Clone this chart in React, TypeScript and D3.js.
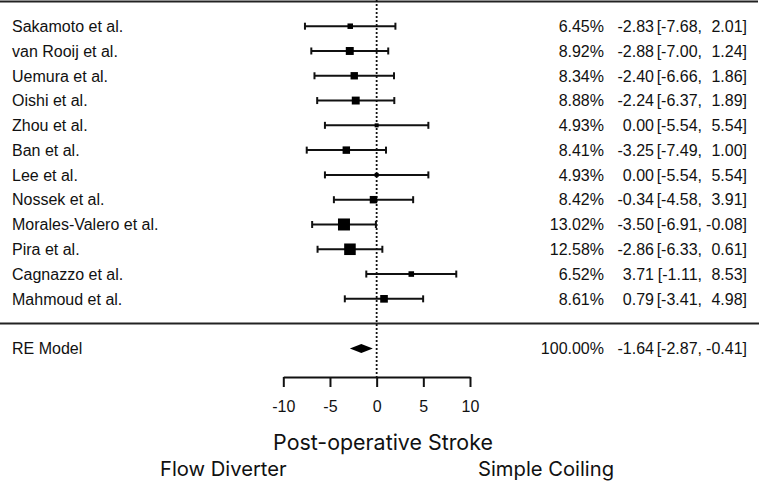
import React, { useEffect, useRef } from 'react';
import * as d3 from 'd3';

// dados do forest plot
const studies = [
  'Sakamoto et al.',
  'van Rooij et al.',
  'Uemura et al.',
  'Oishi et al.',
  'Zhou et al.',
  'Ban et al.',
  'Lee et al.',
  'Nossek et al.',
  'Morales-Valero et al.',
  'Pira et al.',
  'Cagnazzo et al.',
  'Mahmoud et al.',
];
const weights = [6.45, 8.92, 8.34, 8.88, 4.93, 8.41, 4.93, 8.42, 13.02, 12.58, 6.52, 8.61];
const estimates = [-2.83, -2.88, -2.4, -2.24, 0.0, -3.25, 0.0, -0.34, -3.5, -2.86, 3.71, 0.79];
const lowers = [-7.68, -7.0, -6.66, -6.37, -5.54, -7.49, -5.54, -4.58, -6.91, -6.33, -1.11, -3.41];
const uppers = [2.01, 1.24, 1.86, 1.89, 5.54, 1.0, 5.54, 3.91, -0.08, 0.61, 8.53, 4.98];

const summaryLabel = 'RE Model';
const summaryWeight = 100.0;
const summaryEst = -1.64;
const summaryLo = -2.87;
const summaryHi = -0.41;

const xTicks = [-10, -5, 0, 5, 10];
const axisTitle = 'Post-operative Stroke';
const leftLabel = 'Flow Diverter';
const rightLabel = 'Simple Coiling';

const W = 762;
const H = 482;
const labelFont = '"Liberation Sans", Arial, sans-serif';
const titleFont = 'Inter, "Noto Sans", sans-serif';

const App: React.FC = () => {
  const svgRef = useRef<SVGSVGElement | null>(null);

  useEffect(() => {
    const svg = d3.select(svgRef.current);
    svg.selectAll('*').remove();

    const k = studies.length;

    // escala X do efeito
    const x = d3.scaleLinear().domain([-10, 10]).range([283.3, 470]);
    // escala Y por "linha" do forest plot (k .. 1, linha 0 = separador, -1 = modelo)
    const y = d3.scaleLinear().domain([k, -1]).range([26.2, 348.4]);
    // tamanho do quadrado proporcional ao peso
    const size = d3
      .scaleLinear()
      .domain([d3.min(weights) as number, d3.max(weights) as number])
      .range([4, 12]);

    const rows = studies.map((s, i) => ({
      name: s,
      w: weights[i],
      est: estimates[i],
      lo: lowers[i],
      hi: uppers[i],
      row: k - i,
    }));

    // linha do topo e separador
    svg
      .append('line')
      .attr('x1', 0)
      .attr('x2', 758)
      .attr('y1', y(k + 1))
      .attr('y2', y(k + 1))
      .attr('stroke', '#222')
      .attr('stroke-width', 2);
    svg
      .append('line')
      .attr('x1', 0)
      .attr('x2', 759)
      .attr('y1', y(0))
      .attr('y2', y(0))
      .attr('stroke', '#222')
      .attr('stroke-width', 2);

    const axisY = 377;

    // linha pontilhada no zero
    svg
      .append('line')
      .attr('x1', x(0))
      .attr('x2', x(0))
      .attr('y1', 0)
      .attr('y2', axisY)
      .attr('stroke', '#111')
      .attr('stroke-width', 1.8)
      .attr('stroke-dasharray', '2,2');

    const g = svg.append('g');
    const rowG = g
      .selectAll('g.row')
      .data(rows)
      .enter()
      .append('g')
      .attr('transform', (d) => `translate(0,${y(d.row)})`);

    // whiskers
    rowG
      .append('line')
      .attr('x1', (d) => x(d.lo))
      .attr('x2', (d) => x(d.hi))
      .attr('stroke', '#111')
      .attr('stroke-width', 2);
    rowG
      .append('line')
      .attr('x1', (d) => x(d.lo))
      .attr('x2', (d) => x(d.lo))
      .attr('y1', -3.5)
      .attr('y2', 3.5)
      .attr('stroke', '#111')
      .attr('stroke-width', 2);
    rowG
      .append('line')
      .attr('x1', (d) => x(d.hi))
      .attr('x2', (d) => x(d.hi))
      .attr('y1', -3.5)
      .attr('y2', 3.5)
      .attr('stroke', '#111')
      .attr('stroke-width', 2);

    // quadrados
    rowG
      .append('rect')
      .attr('x', (d) => x(d.est) - size(d.w) / 2)
      .attr('y', (d) => -size(d.w) / 2)
      .attr('width', (d) => size(d.w))
      .attr('height', (d) => size(d.w))
      .attr('fill', '#000');

    // textos
    const txt = (sel: any) =>
      sel
        .attr('font-family', labelFont)
        .attr('font-size', 16)
        .attr('fill', '#111')
        .attr('dy', '0.36em');

    txt(rowG.append('text').attr('x', 12).text((d) => d.name));
    txt(rowG.append('text').attr('x', 604).attr('text-anchor', 'end').text((d) => d.w.toFixed(2) + '%'));
    txt(rowG.append('text').attr('x', 654).attr('text-anchor', 'end').text((d) => d.est.toFixed(2)));
    txt(rowG.append('text').attr('x', 702).attr('text-anchor', 'end').text((d) => `[${d.lo.toFixed(2)},`));
    txt(rowG.append('text').attr('x', 747).attr('text-anchor', 'end').text((d) => `${d.hi.toFixed(2)}]`));

    // modelo RE
    const ys = y(-1);
    const diamond = d3.line()([
      [x(summaryLo), ys],
      [x(summaryEst), ys - 4.5],
      [x(summaryHi), ys],
      [x(summaryEst), ys + 4.5],
    ]);
    svg.append('path').attr('d', diamond + 'Z').attr('fill', '#000');

    const sg = svg.append('g').attr('transform', `translate(0,${ys})`);
    txt(sg.append('text').attr('x', 12).text(summaryLabel));
    txt(sg.append('text').attr('x', 604).attr('text-anchor', 'end').text(summaryWeight.toFixed(2) + '%'));
    txt(sg.append('text').attr('x', 654).attr('text-anchor', 'end').text(summaryEst.toFixed(2)));
    txt(sg.append('text').attr('x', 702).attr('text-anchor', 'end').text(`[${summaryLo.toFixed(2)},`));
    txt(sg.append('text').attr('x', 747).attr('text-anchor', 'end').text(`${summaryHi.toFixed(2)}]`));

    // eixo X
    const axis = d3
      .axisBottom(x)
      .tickValues(xTicks)
      .tickSize(10)
      .tickSizeOuter(0)
      .tickPadding(14)
      .tickFormat((d) => String(d));
    const ax = svg.append('g').attr('transform', `translate(0,${axisY})`).call(axis);
    ax.select('.domain').attr('stroke', '#111').attr('stroke-width', 2);
    ax.selectAll('.tick line').attr('stroke', '#111').attr('stroke-width', 2);
    ax.selectAll('.tick text')
      .attr('font-family', labelFont)
      .attr('font-size', 16)
      .attr('fill', '#111');

    // títulos
    svg
      .append('text')
      .attr('x', 383)
      .attr('y', 450)
      .attr('text-anchor', 'middle')
      .attr('font-family', titleFont)
      .attr('font-size', 21.4)
      .attr('fill', '#111')
      .text(axisTitle);
    svg
      .append('text')
      .attr('x', 160)
      .attr('y', 476)
      .attr('font-family', titleFont)
      .attr('font-size', 20.2)
      .attr('fill', '#111')
      .text(leftLabel);
    svg
      .append('text')
      .attr('x', 478)
      .attr('y', 476)
      .attr('font-family', titleFont)
      .attr('font-size', 20.2)
      .attr('fill', '#111')
      .text(rightLabel);
  }, []);

  return (
    <svg
      ref={svgRef}
      width={W}
      height={H}
      style={{ position: 'absolute', left: 0, top: 0, background: '#fff' }}
    ></svg>
  );
};

export default App;
